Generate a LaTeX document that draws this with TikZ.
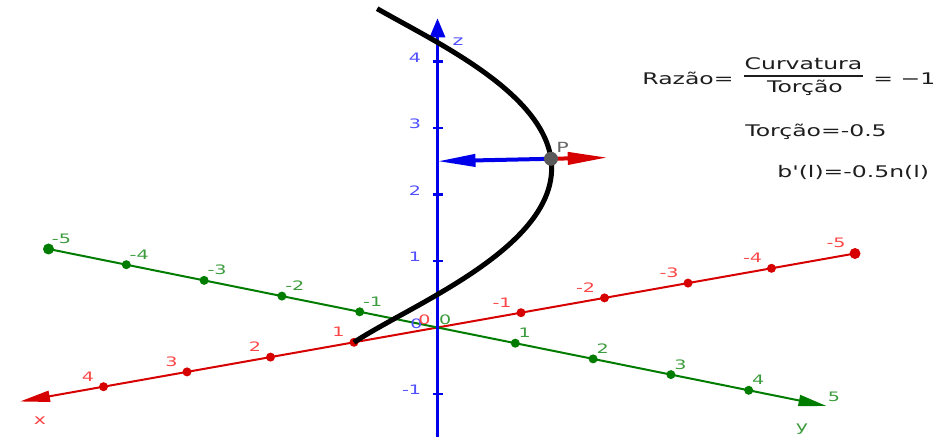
\documentclass[tikz,border=0pt]{standalone}
\usepackage{fontspec}
\setmainfont{DejaVu Sans}
\usetikzlibrary{arrows.meta}
\definecolor{axred}{RGB}{215,0,0}
\definecolor{axgreen}{RGB}{0,125,0}
\definecolor{axblue}{RGB}{0,0,235}
\definecolor{lbred}{RGB}{250,70,70}
\definecolor{lbgreen}{RGB}{60,155,60}
\definecolor{lbblue}{RGB}{80,80,255}
\definecolor{txt}{RGB}{30,30,30}
\newcommand{\sx}[1]{\scalebox{1.47}[1]{#1}}
\tikzset{
  xline/.style={draw=axred,line width=1pt},
  yline/.style={draw=axgreen,line width=1pt},
  zline/.style={draw=axblue,line width=1.5pt},
  xdot/.style={circle,fill=axred,inner sep=0pt,minimum size=4.5pt},
  ydot/.style={circle,fill=axgreen,inner sep=0pt,minimum size=4.5pt},
  xlab/.style={text=lbred,font=\fontsize{6.5}{7}\selectfont,inner sep=0pt},
  ylab/.style={text=lbgreen,font=\fontsize{6.5}{7}\selectfont,inner sep=0pt},
  zlab/.style={text=lbblue,font=\fontsize{6.5}{7}\selectfont,inner sep=0pt},
  axname/.style={font=\fontsize{7}{8}\selectfont,inner sep=0pt},
  bigtxt/.style={text=txt,font=\fontsize{8}{9}\selectfont,inner sep=0pt},
  curve/.style={draw=black,line width=2.5pt},
  vec/.style={line width=2pt},
}
\begin{document}
\begin{tikzpicture}[x=0.5pt,y=-0.5pt]
\useasboundingbox (0,0) rectangle (942,437);
\begin{scope}[shift={(437.5,327.5)},x={(-41.75pt,-7.4pt)},y={(38.9pt,-7.85pt)},z={(0pt,33.25pt)}]
  % axes
  \coordinate (xa) at (-5,0,0);
  \coordinate (xb) at (5,0,0);
  \coordinate (ya) at (0,-5,0);
  \coordinate (yb) at (0,5,0);
  \coordinate (za) at (0,0,-1.65);
  \coordinate (zb) at (0,0,4.65);
  \coordinate (O) at (0,0,0);
  \draw[xline,-{Triangle[length=15pt,width=5.5pt]}] (xa) -- (xb);
  \draw[yline,-{Triangle[length=14pt,width=5.5pt]}] (ya) -- (yb);
  \foreach \i in {-4,-3,-2,-1,1,2,3,4} {
    \node[xdot] (xd\i) at (\i,0,0) {};
    \node[xlab,anchor=south east,xshift=-4.5pt,yshift=2.5pt] (xt\i) at (xd\i) {\sx{\i}};
    \node[ydot] (yd\i) at (0,\i,0) {};
    \node[ylab,anchor=south west,xshift=1.5pt,yshift=2.5pt] (yt\i) at (yd\i) {\sx{\i}};
  }
  \node[xdot,minimum size=5.5pt] (xd-5) at (-5,0,0) {};
  \node[xlab,anchor=south east,xshift=-4.5pt,yshift=2.5pt] (xt-5) at (xd-5) {\sx{-5}};
  \node[ydot,minimum size=5.5pt] (yd-5) at (0,-5,0) {};
  \node[ylab,anchor=south west,xshift=1.5pt,yshift=2.5pt] (yt-5) at (yd-5) {\sx{-5}};
  \node[ylab,anchor=south west] (yt5) at ([xshift=0.5pt,yshift=2pt]yb) {\sx{5}};
  \draw[zline,-{Triangle[length=9.5pt,width=7.5pt]}] (za) -- (zb);
  \foreach \i in {-1,1,2,3,4} {
    \coordinate (zc\i) at (0,0,\i);
    \draw[draw=axblue,line width=1.2pt] ([xshift=-2.5pt]zc\i) -- ([xshift=2.5pt]zc\i);
    \node[zlab,anchor=east,xshift=-8pt,yshift=2pt] (zt\i) at (zc\i) {\sx{\i}};
  }
  % origin labels
  \node[zlab] (z0) at ([xshift=-10.5pt,yshift=2pt]O) {\sx{0}};
  \node[xlab] (x0) at ([xshift=-6.5pt,yshift=4pt]O) {\sx{0}};
  \node[ylab] (y0) at ([xshift=3.8pt,yshift=4pt]O) {\sx{0}};
  % helix
  \draw[curve] plot[domain=0:4.52,samples=150,variable=\t] ({cos(\t r)},{sin(\t r)},{\t});
  % point P and vectors
  \coordinate (P) at ({cos(2.5 r)},{sin(2.5 r)},2.5);
  \coordinate (N) at (0,0,2.5);
  \coordinate (B) at ({1.5*cos(2.5 r)},{1.5*sin(2.5 r)},2.5);
  \draw[vec,draw=axblue,-{Triangle[length=19pt,width=6pt]}] (P) -- (N);
  \draw[vec,draw=axred,-{Triangle[length=20pt,width=6pt]}] (P) -- (B);
  \node[circle,fill=black!65,inner sep=0pt,minimum size=7pt] (Pdot) at (P) {};
  \node[axname,text=black!60,anchor=south west] (Plab) at ([xshift=2.5pt,yshift=3pt]P) {\sx{P}};
\end{scope}
% axis names
\node[axname,text=lbred] (xname) at (40,421) {\sx{x}};
\node[axname,text=lbgreen] (yname) at (802,429) {\sx{y}};
\node[axname,text=lbblue] (zname) at (458,42) {\sx{z}};
% formulas
\node[bigtxt,anchor=base west] (razao) at (642,85) {\sx{Razão=}};
\node[bigtxt,anchor=base] (num) at (803.5,70) {\sx{Curvatura}};
\node[bigtxt,anchor=base] (den) at (805,92.5) {\sx{Torção}};
\draw[txt,line width=0.7pt] (744,76) -- (863,76);
\node[bigtxt,anchor=base west] (eqm) at (873,85) {\sx{= −1}};
\node[bigtxt,anchor=base west] (tor) at (745,137) {\sx{Torção=-0.5}};
\node[bigtxt,anchor=base west] (bpr) at (777,178) {\sx{b\textquotesingle(l)=-0.5n(l)}};
\end{tikzpicture}
\end{document}
